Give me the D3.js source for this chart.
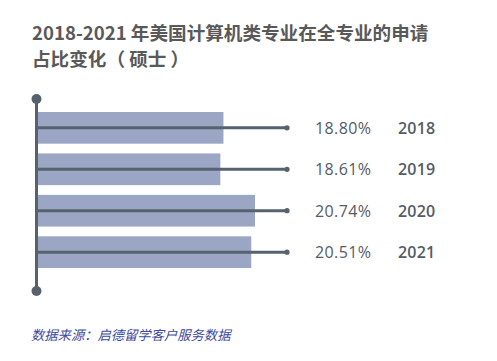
<!DOCTYPE html>
<html>
<head>
<meta charset="utf-8">
<script src="https://cdn.jsdelivr.net/npm/d3@7"></script>
<style>
  html, body { margin: 0; padding: 0; background: #fff; }
  svg { display: block; }
</style>
</head>
<body>
<div id="wrapper"></div>
<script>
const TITLE_LINES = ["2018-2021 年美国计算机类专业在全专业的申请", "占比变化（ 硕士 ）"];
const SOURCE = "数据来源：启德留学客户服务数据";
const years = ["2018", "2019", "2020", "2021"];
const shares = [18.80, 18.61, 20.74, 20.51];

const data = years.map((y, i) => ({ year: y, share: shares[i] }));

const dimensions = {
  width: 497,
  height: 361,
  axisX: 36.5,
  top: 99,
  bottom: 291,
  barsTop: 112,
  barsBottom: 268,
  lineEnd: 287
};

const wrapper = d3.select("#wrapper")
  .append("svg")
  .attr("width", dimensions.width)
  .attr("height", dimensions.height);

// title
wrapper.append("g")
  .selectAll("text")
  .data(TITLE_LINES)
  .join("text")
  .attr("x", 32)
  .attr("y", (d, i) => 39.5 + i * 26)
  .attr("fill", "#595959")
  .style("font-family", "'Noto Sans CJK SC', 'Open Sans', sans-serif")
  .style("font-weight", "bold")
  .style("font-size", "18.6px")
  .text(d => d);

const yScale = d3.scaleBand()
  .domain(years)
  .range([dimensions.barsTop, dimensions.barsBottom])
  .paddingInner(0.235)
  .paddingOuter(0);

// bars don't start at zero in the original, so the domain is offset
const xScale = d3.scaleLinear()
  .domain([7.4, 20.74])
  .range([0, 217]);

const bounds = wrapper.append("g");

bounds.selectAll("rect")
  .data(data)
  .join("rect")
  .attr("x", dimensions.axisX + 1.5)
  .attr("y", d => yScale(d.year))
  .attr("width", d => xScale(d.share))
  .attr("height", yScale.bandwidth())
  .attr("fill", "#9ba6c5");

// horizontal lines through each bar
const mid = d => yScale(d.year) + yScale.bandwidth() / 2;
bounds.selectAll("line.row")
  .data(data)
  .join("line")
  .attr("class", "row")
  .attr("x1", dimensions.axisX)
  .attr("x2", dimensions.lineEnd)
  .attr("y1", mid)
  .attr("y2", mid)
  .attr("stroke", "#56636e")
  .attr("stroke-width", 3);

bounds.selectAll("circle.end")
  .data(data)
  .join("circle")
  .attr("class", "end")
  .attr("cx", dimensions.lineEnd)
  .attr("cy", mid)
  .attr("r", 2.6)
  .attr("fill", "#56636e");

// vertical axis with round caps
bounds.append("line")
  .attr("x1", dimensions.axisX)
  .attr("x2", dimensions.axisX)
  .attr("y1", dimensions.top)
  .attr("y2", dimensions.bottom)
  .attr("stroke", "#56636e")
  .attr("stroke-width", 3);

bounds.selectAll("circle.cap")
  .data([dimensions.top, dimensions.bottom])
  .join("circle")
  .attr("class", "cap")
  .attr("cx", dimensions.axisX)
  .attr("cy", d => d)
  .attr("r", 5)
  .attr("fill", "#56636e");

const fmt = d3.format(".2f");

bounds.selectAll("text.value")
  .data(data)
  .join("text")
  .attr("class", "value")
  .attr("x", 315)
  .attr("y", d => mid(d) + 5.8)
  .attr("fill", "#555c66")
  .style("font-family", "'Open Sans', sans-serif")
  .style("font-size", "16px")
  .style("letter-spacing", "0.4px")
  .text(d => fmt(d.share) + "%");

bounds.selectAll("text.year")
  .data(data)
  .join("text")
  .attr("class", "year")
  .attr("x", 398)
  .attr("y", d => mid(d) + 5.8)
  .attr("fill", "#555c66")
  .style("font-family", "'Open Sans', sans-serif")
  .style("font-weight", "600")
  .style("font-size", "16px")
  .style("letter-spacing", "0.2px")
  .text(d => d.year);

wrapper.append("text")
  .attr("x", 31)
  .attr("y", 340)
  .attr("fill", "#3f4ba0")
  .style("font-family", "'Noto Sans CJK SC', sans-serif")
  .style("font-style", "italic")
  .style("font-size", "13.3px")
  .text(SOURCE);
</script>
</body>
</html>
